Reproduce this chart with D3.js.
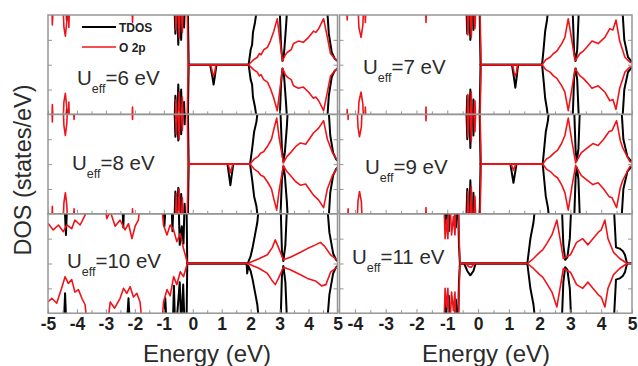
<!DOCTYPE html>
<html>
<head>
<meta charset="utf-8">
<script src="https://cdn.jsdelivr.net/npm/d3@7"></script>
<style>
    body { margin: 0; background: #fff; }
    svg { display: block; }
    text { font-family: Arial, "Liberation Sans", sans-serif; }
    .tick text { font-family: "Liberation Sans", Arial, sans-serif; font-size: 17.5px; font-weight: 700; fill: #1e1e1e; }
</style>
</head>
<body>
<svg id="chart" width="638" height="366"></svg>
<script>
    // labels
    var ueffValues = ["6", "7", "8", "9", "10", "11"];
    var ticksLeft = [-5, -4, -3, -2, -1, 0, 1, 2, 3, 4, 5];
    var ticksRight = [-4, -3, -2, -1, 0, 1, 2, 3, 4, 5];
    var legendNames = ["TDOS", "O 2p"];

    // DOS, [energy eV, states/eV]; spin up, values > 4 are off scale
    var tdosUp6 = [[-5,6],[-4.4,6],[-4.35,3.6],[-4.3,6],[-0.65,6],[-0.6,2.5],[-0.55,6],[-0.5,1.6],[-0.45,5],[-0.4,2],[-0.35,6],[-0.3,3],[-0.25,6],[-0.18,6],[-0.14,0],[1.93,0],[2.0,1.2],[2.05,1.6],[2.08,2.6],[2.15,3.4],[2.25,5],[2.98,6],[3.05,1.5],[3.1,0.3],[3.15,0.8],[3.22,3],[3.3,6],[4.6,6],[4.7,2.5],[4.8,1.0],[4.9,0.5],[5,0.3]];
    var o2pUp6 = [[-5,6],[-4.88,6],[-4.85,3.2],[-4.8,6],[-4.5,6],[-4.45,3.0],[-4.4,2.3],[-4.35,3.5],[-4.3,6],[-4.28,3.0],[-4.24,6],[-2.12,6],[-2.08,3.4],[-2.04,6],[-0.62,6],[-0.58,2.8],[-0.52,6],[-0.47,2.2],[-0.42,6],[-0.36,2.6],[-0.3,6],[-0.2,6],[-0.16,0],[1.93,0],[2.1,0.4],[2.23,0.6],[2.3,0.9],[2.36,0.8],[2.45,1.2],[2.58,1.4],[2.68,1.9],[2.8,2.7],[2.92,3.7],[3.0,2.2],[3.1,0.3],[3.2,0.8],[3.27,1.0],[3.4,1.2],[3.48,1.7],[3.65,1.9],[3.82,1.8],[4.0,2.2],[4.1,2.5],[4.17,2.7],[4.25,2.6],[4.35,2.9],[4.52,3.7],[4.65,2.2],[4.76,0.9],[4.9,0.5],[5.0,0.3]];
    var tdosGap6 = [[0.6,0],[0.68,1.0],[0.72,1.6],[0.76,1.0],[0.82,0]];
    var o2pGap6 = [[0.62,0],[0.68,0.6],[0.72,0.9],[0.76,0.6],[0.8,0]];

    var tdosUp7 = [[-4.5,6],[-0.4,6],[-0.35,2.5],[-0.3,6],[-0.25,2.0],[-0.2,6],[-0.15,2.8],[-0.1,6],[0.04,6],[0.08,0],[2.08,0],[2.13,1.3],[2.18,2.7],[2.24,3.6],[2.3,5],[3.05,6],[3.12,1.0],[3.17,0.3],[3.22,1.2],[3.3,6],[4.65,6],[4.75,2.0],[4.87,0.6],[5.0,0.2]];
    var o2pUp7 = [[-4.5,6],[-4.28,6],[-4.25,3.6],[-4.22,6],[-3.92,6],[-3.87,3.0],[-3.8,2.2],[-3.74,3.2],[-3.7,6],[-3.66,3.4],[-3.62,6],[-1.72,6],[-1.69,3.4],[-1.66,6],[-0.38,6],[-0.33,2.4],[-0.27,6],[-0.22,2.2],[-0.17,6],[-0.1,2.9],[-0.05,6],[0.05,6],[0.1,0],[2.08,0],[2.2,0.4],[2.34,0.6],[2.45,0.9],[2.56,1.1],[2.72,1.7],[2.82,2.2],[2.93,3.7],[3.05,1.9],[3.15,0.3],[3.31,0.9],[3.42,1.1],[3.53,1.4],[3.7,1.9],[3.9,1.7],[4.12,2.2],[4.28,2.9],[4.38,2.8],[4.48,3.6],[4.6,1.9],[4.77,0.6],[4.93,0.2],[5.0,0.15]];
    var tdosGap7 = [[1.1,0],[1.17,1.1],[1.21,1.85],[1.25,1.1],[1.3,0]];
    var o2pGap7 = [[1.12,0],[1.17,0.6],[1.21,0.9],[1.25,0.6],[1.28,0]];

    var tdosUp8 = [[-5,6],[-0.65,6],[-0.6,2.2],[-0.55,6],[-0.5,1.9],[-0.45,5],[-0.4,2.4],[-0.35,6],[-0.28,3.2],[-0.23,6],[-0.18,6],[-0.14,0],[1.98,0],[2.05,1.2],[2.12,2.6],[2.2,3.4],[2.28,5],[3.0,6],[3.08,1.2],[3.13,0.2],[3.18,0.9],[3.25,3],[3.32,6],[4.65,6],[4.75,2.3],[4.85,0.9],[4.95,0.4],[5,0.3]];
    var o2pUp8 = [[-5,6],[-4.88,6],[-4.85,3.4],[-4.82,6],[-4.5,6],[-4.45,3.1],[-4.4,2.3],[-4.35,3.3],[-4.3,6],[-4.15,6],[-4.1,3.6],[-4.05,6],[-2.12,6],[-2.08,3.6],[-2.04,6],[-0.62,6],[-0.57,2.4],[-0.52,6],[-0.47,2.0],[-0.42,6],[-0.36,2.7],[-0.3,6],[-0.2,6],[-0.16,0],[1.98,0],[2.12,0.4],[2.25,0.6],[2.35,0.9],[2.45,1.0],[2.6,1.5],[2.72,2.0],[2.8,2.8],[2.9,3.7],[2.98,2.2],[3.13,0.1],[3.25,0.6],[3.37,0.9],[3.55,1.4],[3.72,1.7],[3.9,1.6],[4.05,2.1],[4.17,2.5],[4.35,2.9],[4.52,3.5],[4.65,2.0],[4.83,0.9],[5.0,0.3]];
    var tdosGap8 = [[1.2,0],[1.26,1.0],[1.3,1.7],[1.34,1.0],[1.4,0]];
    var o2pGap8 = [[1.22,0],[1.27,0.4],[1.3,0.7],[1.34,0.4],[1.38,0]];

    var tdosUp9 = [[-4.5,6],[-0.4,6],[-0.35,2.0],[-0.3,6],[-0.25,1.3],[-0.2,6],[-0.15,2.3],[-0.1,6],[0.04,6],[0.08,0],[2.1,0],[2.15,1.3],[2.2,2.6],[2.27,3.5],[2.33,5],[3.1,6],[3.17,1.0],[3.21,0.3],[3.26,1.2],[3.33,6],[4.62,6],[4.72,2.0],[4.85,0.6],[4.95,0.3],[5,0.2]];
    var o2pUp9 = [[-4.5,6],[-4.25,6],[-4.22,3.6],[-4.19,6],[-3.95,6],[-3.9,3.0],[-3.85,2.2],[-3.79,3.0],[-3.74,6],[-1.72,6],[-1.69,3.5],[-1.66,6],[-0.38,6],[-0.33,2.2],[-0.27,6],[-0.22,1.8],[-0.17,6],[-0.1,2.6],[-0.05,6],[0.05,6],[0.1,0],[2.1,0],[2.22,0.4],[2.35,0.6],[2.47,0.9],[2.58,1.1],[2.72,1.7],[2.82,2.3],[2.93,3.7],[3.05,1.8],[3.17,0.1],[3.35,0.9],[3.55,1.3],[3.73,1.65],[3.9,1.5],[4.08,2.0],[4.25,2.6],[4.35,2.7],[4.5,3.5],[4.62,1.9],[4.7,1.3],[4.93,0.2],[5,0.15]];
    var tdosGap9 = [[1.05,0],[1.11,0.9],[1.15,1.5],[1.19,0.9],[1.25,0]];
    var o2pGap9 = [[1.07,0],[1.12,0.3],[1.15,0.5],[1.18,0.3],[1.23,0]];

    var tdosUp10 = [[-5,6],[-4.45,6],[-4.38,2.3],[-4.32,6],[-2.45,6],[-2.4,2.9],[-2.35,6],[-1.02,6],[-0.98,3.0],[-0.9,6],[-0.75,6],[-0.7,2.6],[-0.65,6],[-0.5,6],[-0.45,1.5],[-0.38,3.0],[-0.32,1.6],[-0.27,6],[-0.22,6],[-0.19,0],[1.9,0],[2.0,0.6],[2.06,1.2],[2.15,2.3],[2.23,3.3],[2.3,5],[3.02,6],[3.08,1.0],[3.13,0.2],[3.2,1.5],[3.28,6],[4.6,6],[4.72,2.5],[4.85,0.8],[4.95,0.3],[5,0.2]];
    var o2pUp10 = [[-5,3.24],[-4.82,2.7],[-4.64,3.1],[-4.47,2.56],[-4.35,3.1],[-4.18,2.8],[-4.07,3.5],[-3.89,3.1],[-3.72,3.9],[-3.6,6],[-3.1,6],[-2.97,3.6],[-2.85,4.2],[-2.68,3.0],[-2.51,3.5],[-2.34,2.7],[-2.22,3.2],[-2.1,2.0],[-1.99,3.0],[-1.88,3.5],[-1.75,6],[-1.12,6],[-1.01,3.1],[-0.89,2.3],[-0.78,3.1],[-0.66,2.7],[-0.55,1.76],[-0.43,2.4],[-0.32,1.2],[-0.26,0.7],[-0.18,0],[1.9,0],[2.3,0.4],[2.58,0.7],[2.75,1.3],[2.85,1.9],[2.96,1.3],[3.13,0.3],[3.37,0.5],[3.72,0.9],[3.96,1.2],[4.24,1.5],[4.41,1.7],[4.55,1.4],[4.76,0.7],[4.93,0.4],[5,0.3]];
    // spin down differs from spin up for Ueff=10
    var tdosDn10 = [[-5,6],[-4.47,6],[-4.41,2.4],[-4.35,6],[-2.3,6],[-2.22,2.8],[-2.15,6],[-1.0,6],[-0.95,2.8],[-0.88,6],[-0.7,6],[-0.65,1.8],[-0.6,6],[-0.5,3],[-0.45,1.5],[-0.4,5],[-0.33,1.7],[-0.27,6],[-0.22,6],[-0.19,0],[1.86,0],[1.88,0.8],[1.92,0.2],[2.0,0.6],[2.06,1.2],[2.15,2.3],[2.23,3.3],[2.3,5],[3.02,6],[3.08,1.0],[3.13,0.2],[3.2,1.5],[3.28,6],[4.6,6],[4.72,2.5],[4.85,0.8],[4.95,0.3],[5,0.2]];
    var o2pDn10 = [[-5,3.1],[-4.87,2.8],[-4.7,3.2],[-4.53,2.0],[-4.41,1.06],[-4.3,1.6],[-4.18,1.3],[-4.07,2.3],[-3.95,2.1],[-3.83,2.8],[-3.72,3.3],[-3.6,6],[-3.0,6],[-2.85,3.1],[-2.7,3.6],[-2.51,2.8],[-2.39,2.0],[-2.28,2.4],[-2.16,1.87],[-2.05,2.7],[-1.93,2.4],[-1.82,3.1],[-1.7,6],[-1.1,6],[-1.01,3.1],[-0.89,2.1],[-0.78,2.6],[-0.66,1.06],[-0.55,1.7],[-0.43,0.66],[-0.32,1.06],[-0.2,0.1],[-0.18,0],[1.9,0],[2.3,0.4],[2.58,0.8],[2.72,1.3],[2.85,1.7],[2.96,1.2],[3.13,0.3],[3.37,0.5],[3.72,0.9],[3.96,1.2],[4.24,1.4],[4.45,1.8],[4.6,1.7],[4.76,0.7],[4.93,0.4],[5,0.3]];

    var tdosUp11 = [[-4.5,6],[-1.1,6],[-1.05,3.2],[-1.0,6],[-0.95,2.6],[-0.88,6],[-0.78,6],[-0.72,2.9],[-0.66,6],[-0.62,1.5],[-0.59,0],[1.6,0],[1.7,2.0],[1.8,3.3],[1.85,4.5],[1.9,6],[2.7,6],[2.77,1.5],[2.83,0.3],[2.9,0.5],[2.98,2],[3.05,6],[4.38,6],[4.48,1.3],[4.6,1.2],[4.7,1.0],[4.77,0.7],[4.84,0],[5,0]];
    var o2pUp11 = [[-4.5,6],[-1.12,6],[-1.07,2.0],[-1.02,3.5],[-0.98,2.0],[-0.93,6],[-0.86,2.3],[-0.8,3.8],[-0.75,2.3],[-0.7,6],[-0.65,6],[-0.6,0.7],[-0.58,0],[1.6,0],[1.8,0.4],[2.0,0.9],[2.1,1.1],[2.23,1.6],[2.4,2.3],[2.56,3.5],[2.67,1.9],[2.77,0.4],[3.0,0.7],[3.2,1.7],[3.4,2.0],[3.57,1.5],[3.73,2.0],[3.9,2.5],[4.0,2.7],[4.12,3.5],[4.22,2.0],[4.4,0.9],[4.6,0.4],[4.84,0],[5,0]];
    var tdosGap11 = [[-0.45,0],[-0.35,0.6],[-0.25,0.95],[-0.15,0.6],[-0.08,0]];
    var o2pGap11 = [[-0.4,0],[-0.3,0.25],[-0.22,0.3],[-0.12,0]];

    var panels = [
        { u: ueffValues[0], col: 0, row: 0, lx: 77, ly: 20, tdos: tdosUp6, o2p: o2pUp6, tdosGap: tdosGap6, o2pGap: o2pGap6 },
        { u: ueffValues[1], col: 1, row: 0, lx: 363, ly: 9, tdos: tdosUp7, o2p: o2pUp7, tdosGap: tdosGap7, o2pGap: o2pGap7 },
        { u: ueffValues[2], col: 0, row: 1, lx: 72, ly: 6, tdos: tdosUp8, o2p: o2pUp8, tdosGap: tdosGap8, o2pGap: o2pGap8 },
        { u: ueffValues[3], col: 1, row: 1, lx: 365, ly: 10, tdos: tdosUp9, o2p: o2pUp9, tdosGap: tdosGap9, o2pGap: o2pGap9 },
        { u: ueffValues[4], col: 0, row: 2, lx: 67, ly: 4, tdos: tdosUp10, o2p: o2pUp10, tdosDn: tdosDn10, o2pDn: o2pDn10 },
        { u: ueffValues[5], col: 1, row: 2, lx: 352, ly: 0, tdos: tdosUp11, o2p: o2pUp11, tdosGap: tdosGap11, o2pGap: o2pGap11 }
    ];

    var svg = d3.select("#chart");
    var rowTop = [15, 114.4, 213.8];
    var rowH = 99.4;
    var colRange = [[48, 337.5], [339.5, 632]];
    var colDomain = [[-5, 5], [-4.5, 5]];
    var black = "#000", red = "#f0141a", frame = "#959595";

    function neg(arr) {
        return arr.map(function (d) { return [d[0], -d[1]]; });
    }

    panels.forEach(function (p, i) {
        var top = rowTop[p.row], bottom = top + rowH;
        var x = d3.scaleLinear().domain(colDomain[p.col]).range(colRange[p.col]);
        var y = d3.scaleLinear().domain([-4, 4]).range([bottom, top]);
        var x0 = colRange[p.col][0], x1 = colRange[p.col][1];

        svg.append("clipPath").attr("id", "clip" + i)
            .append("rect")
            .attr("x", x0).attr("y", top)
            .attr("width", x1 - x0).attr("height", rowH);

        var g = svg.append("g").attr("clip-path", "url(#clip" + i + ")");
        var line = d3.line()
            .x(function (d) { return x(d[0]); })
            .y(function (d) { return y(d[1]); });

        var series = [
            { up: p.tdos, dn: p.tdosDn || p.tdos, gap: p.tdosGap, color: black, w: 2.0 },
            { up: p.o2p, dn: p.o2pDn || p.o2p, gap: p.o2pGap, color: red, w: 1.6 }
        ];
        series.forEach(function (s) {
            [s.up, neg(s.dn), s.gap ? neg(s.gap) : null].forEach(function (arr) {
                if (!arr) return;
                g.append("path")
                    .attr("d", line(arr))
                    .attr("fill", "none")
                    .attr("stroke", s.color)
                    .attr("stroke-width", s.w)
                    .attr("stroke-linejoin", "round");
            });
        });

        // x ticks (inward), labels only on the bottom row
        var majors = p.col == 0 ? ticksLeft : ticksRight;
        var minors = d3.range(Math.ceil(colDomain[p.col][0]) - 0.5, 5, 1).filter(function (v) {
            return v > colDomain[p.col][0];
        });
        var ax = svg.append("g").attr("transform", "translate(0," + bottom + ")")
            .call(d3.axisBottom(x).tickValues(majors).tickSize(-4).tickSizeOuter(0).tickPadding(4)
                .tickFormat(p.row == 2 ? function (d) { return String(d); } : ""));
        ax.select(".domain").remove();
        ax.selectAll("line").attr("stroke", frame);

        var axm = svg.append("g").attr("transform", "translate(0," + bottom + ")")
            .call(d3.axisBottom(x).tickValues(minors).tickSize(-3).tickSizeOuter(0).tickFormat(""));
        axm.select(".domain").remove();
        axm.selectAll("line").attr("stroke", frame);

        // y ticks (inward), no labels
        var ayl = svg.append("g").attr("transform", "translate(" + x0 + ",0)")
            .call(d3.axisLeft(y).tickValues([-2, 0, 2]).tickSize(-4).tickSizeOuter(0).tickFormat(""));
        ayl.select(".domain").remove();
        ayl.selectAll("line").attr("stroke", frame);
        var ayr = svg.append("g").attr("transform", "translate(" + x1 + ",0)")
            .call(d3.axisRight(y).tickValues([-2, 0, 2]).tickSize(-4).tickSizeOuter(0).tickFormat(""));
        ayr.select(".domain").remove();
        ayr.selectAll("line").attr("stroke", frame);

        svg.append("rect")
            .attr("x", x0).attr("y", top)
            .attr("width", x1 - x0).attr("height", rowH)
            .attr("fill", "none").attr("stroke", frame).attr("stroke-width", 1.5);

        // U_eff label
        var t = svg.append("text")
            .attr("x", p.lx).attr("y", y(0) + p.ly)
            .attr("font-size", "20.5px").attr("fill", "#2b2b2b");
        t.append("tspan").text("U");
        t.append("tspan").attr("font-size", "12.5px").attr("dy", 8).text("eff");
        t.append("tspan").attr("dy", -8).text("=" + p.u + " eV");
    });

    // legend in first panel
    var legColors = [black, red];
    legendNames.forEach(function (name, i) {
        var ly = 27 + i * 20;
        svg.append("line")
            .attr("x1", 82).attr("x2", 116).attr("y1", ly).attr("y2", ly)
            .attr("stroke", legColors[i]).attr("stroke-width", i == 0 ? 2 : 1.6);
        svg.append("text")
            .attr("x", 119).attr("y", ly + 4.5)
            .attr("font-size", "12px").attr("font-weight", "bold").attr("fill", "#222")
            .text(name);
    });

    // axis titles
    [207, 486].forEach(function (cx) {
        svg.append("text")
            .attr("x", cx).attr("y", 362)
            .attr("text-anchor", "middle")
            .attr("font-size", "24px").attr("fill", "#2b2b2b")
            .text("Energy (eV)");
    });
    svg.append("text")
        .attr("transform", "translate(31,170) rotate(-90)")
        .attr("text-anchor", "middle")
        .attr("font-size", "23.5px").attr("fill", "#2b2b2b")
        .text("DOS (states/eV)");
</script>
</body>
</html>
